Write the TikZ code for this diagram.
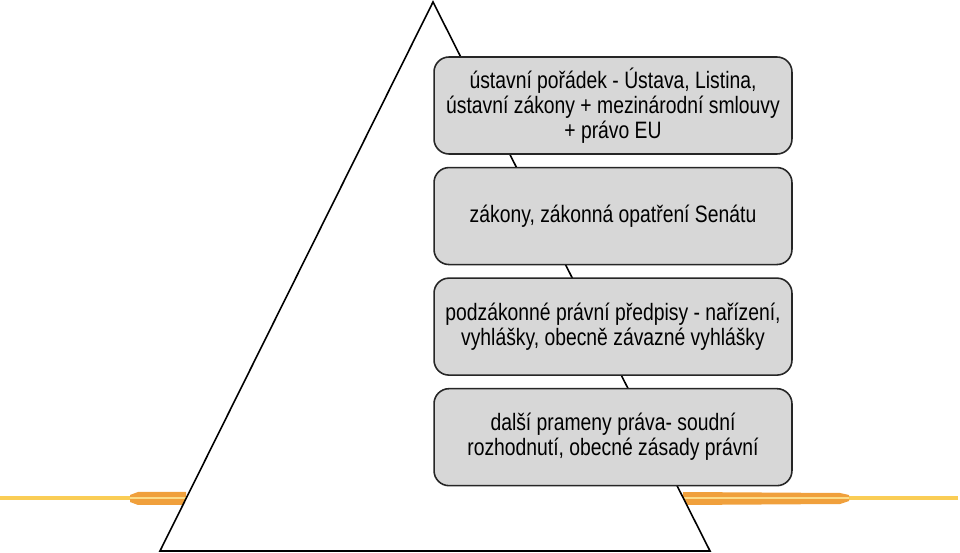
\documentclass[tikz,border=0pt]{standalone}
\usepackage{fontspec}
\setmainfont{Liberation Sans}[FakeStretch=0.815]
\usepackage{tikz}
\usetikzlibrary{positioning}
\definecolor{boxgray}{RGB}{215,215,215}
\definecolor{glowyel}{RGB}{250,205,85}
\definecolor{gloworg}{RGB}{240,160,60}

\begin{document}
\begin{tikzpicture}[x=0.02cm, y=-0.02cm,
    level/.style={draw=black!85, line width=0.9pt, fill=boxgray, rounded corners=0.3cm,
      minimum width=7.16cm, minimum height=1.94cm, align=center,
      font=\fontsize{13.5}{14.2}\selectfont, inner sep=0pt},
    node distance=0.24cm]
  \useasboundingbox (0,0) rectangle (960,553);
  % --- glowing streak behind the pyramid ---
  \draw[glowyel, line width=1.8pt] (0,498) -- (958,498);
  \fill[gloworg] (130,495) -- (138,492) -- (186,492) -- (186,505) -- (138,505) -- (130,502) -- cycle;
  \fill[gloworg] (683,492) -- (840,493) -- (849,495) -- (849,501) -- (840,504) -- (683,505) -- cycle;
  \draw[glowyel!70!white, line width=0.6pt] (130,498) -- (186,498) (683,498) -- (849,498);

  % --- pyramid ---
  \coordinate (apex) at (433,2);
  \coordinate (baseL) at (160,551);
  \coordinate (baseR) at (710,551);
  \draw[fill=white, line width=0.9pt] (apex) -- (baseR) -- (baseL) -- cycle;

  % --- levels ---
  \node[level] (ustava) at (613,105.5)
    {ústavní pořádek - Ústava, Listina,\\ústavní zákony + mezinárodní smlouvy\\+ právo EU};
  \node[level, below=of ustava] (zakony) {zákony, zákonná opatření Senátu};
  \node[level, below=of zakony] (podzak)
    {podzákonné právní předpisy - nařízení,\\vyhlášky, obecně závazné vyhlášky};
  \node[level, below=of podzak] (dalsi)
    {další prameny práva- soudní\\rozhodnutí, obecné zásady právní};
\end{tikzpicture}
\end{document}
